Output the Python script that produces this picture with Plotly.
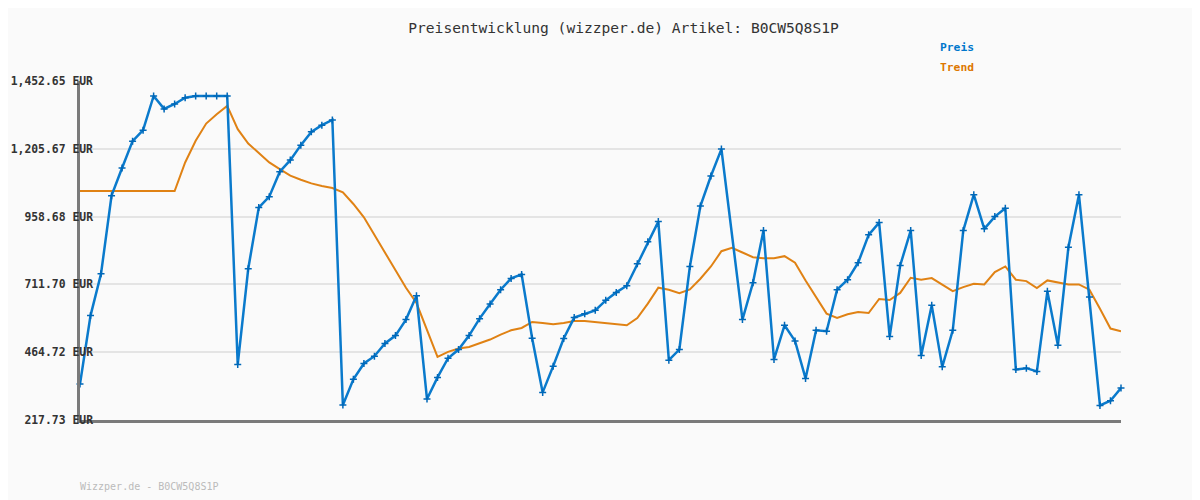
import plotly.graph_objects as go

# ---- data ----
title_text = "Preisentwicklung (wizzper.de) Artikel: B0CW5Q8S1P"
footer_text = "Wizzper.de - B0CW5Q8S1P"
series_names = ["Preis", "Trend"]

preis = [348.5, 598, 750.5, 1035, 1135.6, 1233.6, 1273.6, 1398, 1351, 1369,
         1392, 1398, 1398, 1398, 1398, 420, 768.7, 991.4, 1031.3, 1122,
         1164.5, 1219, 1267.4, 1291.7, 1311, 272.2, 366, 423.6, 450.2, 496.3,
         525.3, 583.5, 670.6, 294, 372.8, 442.9, 474.5, 525.3, 587, 640.2,
         692.4, 733.5, 748, 515.5, 318.3, 413.9, 514.5, 590.7, 605.2, 617.2,
         653.6, 682.6, 707, 786.9, 866.8, 940.5, 435.6, 474.5, 777, 997.4,
         1106.5, 1204.5, None, 583.5, 717.8, 907.8, 438.2, 562.8, 505.8, 369.2,
         544.6, 541, 692.4, 728.7, 790.5, 892.2, 936.9, 521.5, 780.7, 907.8,
         452.7, 635.4, 411.3, 544.6, 907.8, 1038.6, 914, 958.7, 988.8, 401.8,
         406.6, 394.6, 686.3, 490.1, 847.2, 1038.6, 665.6, 271, 287.8, 334]

trend = [1052, 1052, 1052, 1052, 1052, 1052, 1052, 1052, 1052, 1052,
         1155.9, 1234.7, 1297.6, 1331.6, 1361.8, 1277.2, 1225, 1188.6, 1155.9, 1131.8,
         1107.6, 1093, 1079.6, 1070, 1062.8, 1046.8, 1004.7, 956.1, 893.3, 829,
         762.5, 699.6, 643.8, 547.1, 447.6, 465.8, 478.1, 484, 496.3, 510.8,
         529, 544.6, 553, 574.8, 571.1, 566.4, 571.1, 578.4, 578.4, 574.8,
         571.1, 567.5, 562.8, 589.3, 641.5, 699.6, 692.4, 680, 693.5, 732.4,
         777, 832.6, 845, 827.9, 810.8, 807.2, 807.2, 814.5, 790.5, 726.2,
         665.6, 605.2, 589.3, 602.7, 611.1, 607.4, 658.5, 655, 680.7, 736,
         728.7, 734.6, 710.6, 687.3, 701.9, 714.2, 711.7, 756.4, 777, 728.7,
         723.7, 698.2, 726.2, 717.8, 711.7, 711.7, 692.4, 623.4, 550.8, 541]

x_idx = list(range(len(preis)))

y_ticks = [217.73, 464.72, 711.70, 958.68, 1205.67, 1452.65]
y_ticktext = ["217.73 EUR", "464.72 EUR", "711.70 EUR", "958.68 EUR",
              "1,205.67 EUR", "1,452.65 EUR"]

BLUE = "#0a7acc"
ORANGE = "#e08214"
MONO = "DejaVu Sans Mono"

fig = go.Figure()
fig.add_trace(go.Scatter(
    x=x_idx, y=trend, mode="lines", name=series_names[1],
    line=dict(color=ORANGE, width=2), cliponaxis=False, showlegend=False))
fig.add_trace(go.Scatter(
    x=x_idx, y=preis, mode="lines+markers", name=series_names[0],
    connectgaps=True,
    line=dict(color=BLUE, width=2.5),
    marker=dict(symbol="cross-thin", size=5, color="#0068b8",
                line=dict(color="#0068b8", width=1.5)),
    cliponaxis=False, showlegend=False))

# page has an 8px body margin, so the figure is 8px smaller and shifted
W, H = 1192, 492
fig.update_layout(
    width=W, height=H,
    margin=dict(l=72, r=79, t=73, b=80, autoexpand=False),
    paper_bgcolor="#fafafa", plot_bgcolor="#fafafa",
    title=dict(text=title_text, x=(623.5 - 8) / W, xanchor="center",
               y=1 - (28.3 - 8) / H, yanchor="middle",
               xref="container", yref="container",
               font=dict(family=MONO, size=14.6, color="#333333")),
    xaxis=dict(range=[0, len(preis) - 1], showgrid=False, zeroline=False,
               showticklabels=False, ticks="", showline=True, automargin=False,
               linecolor="#7a7a7a", linewidth=2.5),
    yaxis=dict(range=[y_ticks[0], y_ticks[-1]], tickvals=y_ticks, ticktext=y_ticktext,
               showgrid=True, gridcolor="#e4e4e4", gridwidth=2, zeroline=False,
               showline=True, linecolor="#7a7a7a", linewidth=2.5, ticks="",
               automargin=False, ticklabelstandoff=-18,
               tickfont=dict(family=MONO, size=11.4, color="#333333", weight="bold")),
    hovermode=False,
)

# legend-like labels
fig.add_annotation(text="<b>Preis</b>", xref="paper", yref="paper",
                   x=(974 - 80) / 1041, y=(420 - 47.3) / 339, xanchor="right", yanchor="middle",
                   xshift=2, showarrow=False,
                   font=dict(family=MONO, size=11.3, color="#0077cc"))
fig.add_annotation(text="<b>Trend</b>", xref="paper", yref="paper",
                   x=(974 - 80) / 1041, y=(420 - 67.3) / 339, xanchor="right", yanchor="middle",
                   xshift=2, showarrow=False,
                   font=dict(family=MONO, size=11.3, color="#dd7700"))
# footer
fig.add_annotation(text=footer_text, xref="paper", yref="paper",
                   x=0, y=(420 - 486.7) / 339, xanchor="left", yanchor="middle",
                   xshift=-2, showarrow=False,
                   font=dict(family=MONO, size=10, color="#bbbbbb"))

fig.write_html("out.html")
